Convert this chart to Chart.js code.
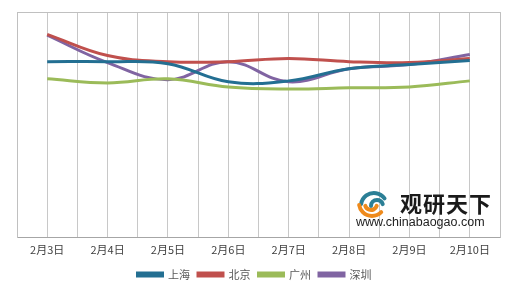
<!DOCTYPE html>
<html>
<head>
<meta charset="utf-8">
<script src="https://cdn.jsdelivr.net/npm/chart.js@4"></script>
<style>
  html, body { margin: 0; padding: 0; background: #fff; }
  #wrap { width: 520px; height: 286px; }
</style>
</head>
<body>
<div id="wrap"><canvas id="price_chart"></canvas></div>
<script>
var dates = ["2月3日", "2月4日", "2月5日", "2月6日", "2月7日", "2月8日", "2月9日", "2月10日"];
var shanghai = [78.0, 78.0, 77.1, 69.1, 69.5, 74.9, 76.7, 78.5];
var beijing = [90.1, 80.7, 78.0, 78.0, 79.4, 78.0, 77.6, 79.4];
var guangzhou = [70.4, 68.6, 70.4, 66.8, 65.9, 66.4, 66.8, 69.5];
var shenzhen = [89.7, 77.6, 70.0, 78.0, 69.1, 74.9, 76.7, 81.2];

var ctx = document.getElementById("price_chart");

function points(values){
    return values.map(function(v, i){ return {x: i, y: v}; });
}

function series(name, values, color){
    return {
        label: name,
        data: points(values),
        borderColor: color,
        backgroundColor: color,
        borderWidth: 3,
        pointRadius: 0,
        tension: 0.4,
        fill: false
    };
}

// frame round the plot area and the watermark
var frame = {
    id: "frame",
    afterDatasetsDraw: function(chart){
        var a = chart.chartArea, c = chart.ctx;
        c.save();
        c.strokeStyle = "#c0c0c0";
        c.lineWidth = 1;
        c.beginPath();
        c.moveTo(a.left, a.top + 0.5);
        c.lineTo(a.right + 0.5, a.top + 0.5);
        c.lineTo(a.right + 0.5, a.bottom);
        c.stroke();

        // logo
        c.lineCap = "round";
        c.lineWidth = 4;
        c.strokeStyle = "#2b7f96";
        c.beginPath();
        c.arc(374, 206, 13, Math.PI * 1.05, Math.PI * 1.8);
        c.stroke();
        c.beginPath();
        c.arc(377, 206, 6, Math.PI * 1.0, Math.PI * 1.9);
        c.stroke();
        c.strokeStyle = "#ee8a1c";
        c.beginPath();
        c.arc(372, 203, 13, Math.PI * 0.25, Math.PI * 0.95);
        c.stroke();
        c.beginPath();
        c.arc(371, 204, 6, Math.PI * 0.1, Math.PI * 0.9);
        c.stroke();

        c.fillStyle = "#1a1a1a";
        c.font = "bold 22px 'Noto Sans CJK SC'";
        c.textBaseline = "middle";
        var chars = "观研天下";
        for (var i = 0; i < chars.length; i++) {
            c.fillText(chars[i], 400 + i * 23, 204);
        }
        c.fillStyle = "#222";
        c.font = "12.5px 'Liberation Sans'";
        c.fillText("www.chinabaogao.com", 356, 223);
        c.restore();
    }
};

new Chart(ctx, {
    type: "line",
    data: {
        datasets: [
            series("上海", shanghai, "#236f92"),
            series("北京", beijing, "#c0504d"),
            series("广州", guangzhou, "#9bbb59"),
            series("深圳", shenzhen, "#8064a2")
        ]
    },
    options: {
        responsive: true,
        maintainAspectRatio: false,
        animation: false,
        layout: { padding: { left: 9, right: 20, top: 12, bottom: -4 } },
        plugins: {
            tooltip: { enabled: false },
            legend: {
                position: "bottom",
                labels: {
                    boxWidth: 25,
                    boxHeight: 3,
                    padding: 8,
                    color: "#595959",
                    font: { family: "'Noto Sans CJK SC'", size: 11 }
                }
            }
        },
        scales: {
            x: {
                type: "linear",
                min: -0.5,
                max: 7.5,
                grid: { color: "#c8c8c8", drawTicks: false },
                border: { color: "#a6a6a6" },
                ticks: {
                    stepSize: 0.5,
                    autoSkip: false,
                    maxRotation: 0,
                    padding: 5,
                    color: "#404040",
                    font: { family: "'Noto Sans CJK SC'", size: 11 },
                    callback: function(v){
                        return Number.isInteger(v) ? dates[v] : "";
                    }
                }
            },
            y: {
                min: 0,
                max: 100,
                grid: { display: false },
                border: { color: "#c0c0c0" },
                ticks: { display: false }
            }
        }
    },
    plugins: [frame]
});
</script>
</body>
</html>
